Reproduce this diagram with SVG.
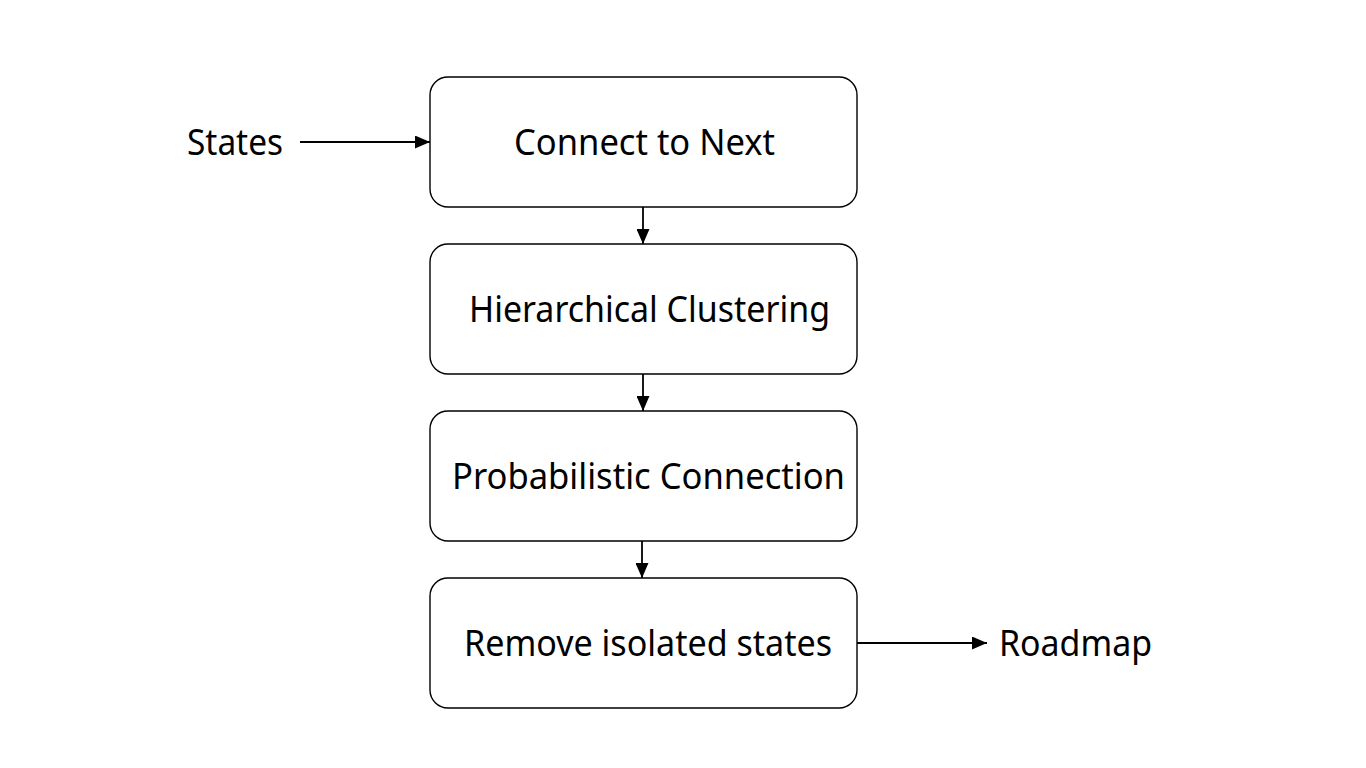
<svg xmlns="http://www.w3.org/2000/svg" width="1366" height="768" viewBox="0 0 1366 768">
<style>
.box{fill:#fff;stroke:#000;stroke-width:1.4}
.t{font-family:"Noto Sans","Open Sans",sans-serif;font-size:37px;fill:#000}
.c{stroke:#000;stroke-width:1.8;fill:none}
</style>
<defs>
<marker id="ah" markerWidth="15" markerHeight="13" refX="15" refY="6.5" orient="auto" markerUnits="userSpaceOnUse">
<path d="M0,0 L15,6.5 L0,13 Z" fill="#000"/>
</marker>
</defs>
<rect width="1366" height="768" fill="#fff"/>
<g id="connectors">
<line class="c" x1="300" y1="142" x2="430" y2="142" marker-end="url(#ah)"/>
<line class="c" x1="643" y1="207" x2="643" y2="244" marker-end="url(#ah)"/>
<line class="c" x1="643" y1="374" x2="643" y2="411" marker-end="url(#ah)"/>
<line class="c" x1="642" y1="541" x2="642" y2="578" marker-end="url(#ah)"/>
<line class="c" x1="857" y1="643" x2="987" y2="643" marker-end="url(#ah)"/>
</g>
<g id="states"><text class="t" x="187" y="155" textLength="96" lengthAdjust="spacingAndGlyphs">States</text></g>
<g id="n1"><rect class="box" x="430" y="77" width="427" height="130" rx="18"/><text class="t" x="514" y="155" textLength="261" lengthAdjust="spacingAndGlyphs">Connect to Next</text></g>
<g id="n2"><rect class="box" x="430" y="244" width="427" height="130" rx="18"/><text class="t" x="469" y="322" textLength="361" lengthAdjust="spacingAndGlyphs">Hierarchical Clustering</text></g>
<g id="n3"><rect class="box" x="430" y="411" width="427" height="130" rx="18"/><text class="t" x="452" y="489" textLength="393" lengthAdjust="spacingAndGlyphs">Probabilistic Connection</text></g>
<g id="n4"><rect class="box" x="430" y="578" width="427" height="130" rx="18"/><text class="t" x="464" y="656" textLength="368" lengthAdjust="spacingAndGlyphs">Remove isolated states</text></g>
<g id="roadmap"><text class="t" x="999" y="656" textLength="153" lengthAdjust="spacingAndGlyphs">Roadmap</text></g>
</svg>
